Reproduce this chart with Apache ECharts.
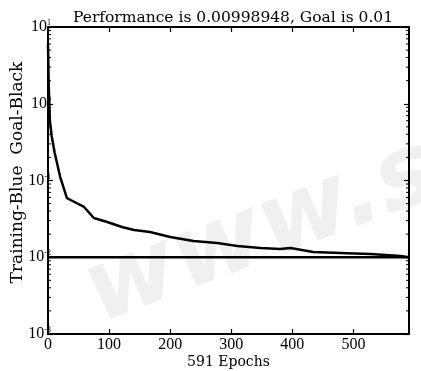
<!DOCTYPE html>
<html>
<head>
<meta charset="utf-8">
<script src="https://cdn.jsdelivr.net/npm/echarts@6/dist/echarts.min.js"></script>
<style>
html,body{margin:0;padding:0;background:#fff;}
#c{width:421px;height:371px;}
</style>
</head>
<body>
<div id="c"></div>
<script>
// Training performance
const epochs = [0, 1, 3, 6, 11, 20, 31, 37, 59, 75, 97, 121, 141, 167, 200, 238, 277, 310, 348, 380, 397, 434, 490, 528, 577, 591];
const perf = [6, 2.0, 0.61, 0.38, 0.228, 0.111, 0.059, 0.0557, 0.0452, 0.0325, 0.0288, 0.0248, 0.0226, 0.0213, 0.0184, 0.0163, 0.0153, 0.0140, 0.0132, 0.0128, 0.0132, 0.0117, 0.0113, 0.0110, 0.0104, 0.00998948];
// Goal line
const goalEpochs = [0, 591];
const goalVals = [0.01, 0.01];
// Axis ticks
const xTicks = [0, 100, 200, 300, 400, 500];
const yMajor = [0.001, 0.01, 0.1, 1, 10];
const yMinor = [0.002,0.003,0.004,0.005,0.006,0.007,0.008,0.009,
                0.02,0.03,0.04,0.05,0.06,0.07,0.08,0.09,
                0.2,0.3,0.4,0.5,0.6,0.7,0.8,0.9,
                2,3,4,5,6,7,8,9];

const titleText = 'Performance is 0.00998948, Goal is 0.01';
const xName = '591 Epochs';
const yName = 'Training-Blue  Goal-Black';

const DSERIF = '"DejaVu Serif", serif';
const SERIF = '"Liberation Serif", serif';

const chart = echarts.init(document.getElementById('c'), null, {renderer: 'canvas'});

const axisLineStyle = {color: '#000', width: 2};
const tickStyle = {color: '#000', width: 1.2};

const option = {
  backgroundColor: '#fff',
  animation: false,
  graphic: [{
    type: 'text',
    x: 262, y: 234,
    rotation: 0.36,
    z: -10,
    silent: true,
    style: {
      text: 'www.s',
      font: 'italic bold 100px "DejaVu Sans"',
      align: 'center',
      verticalAlign: 'middle',
      fill: 'rgba(0,0,0,0.06)',
      shadowBlur: 16,
      shadowColor: 'rgba(0,0,0,0.4)'
    }
  }],
  title: {
    text: titleText,
    left: 228,
    textAlign: 'center',
    top: 5,
    textStyle: {fontFamily: DSERIF, fontSize: 15.5, fontWeight: 'normal', color: '#000'}
  },
  grid: {left: 48, right: 12, top: 27, bottom: 37, containLabel: false, outerBoundsMode: 'none'},
  xAxis: [{
    type: 'value', min: 0, max: 591, interval: 100, position: 'bottom',
    axisLine: {show: true, onZero: false, lineStyle: axisLineStyle},
    axisTick: {show: true, inside: true, length: 5, lineStyle: tickStyle, customValues: xTicks},
    axisLabel: {show: true, margin: 3, color: '#000', fontFamily: SERIF, fontSize: 16,
      customValues: xTicks},
    splitLine: {show: false},
    name: xName, nameLocation: 'middle', nameGap: 21, nameMoveOverlap: false,
    nameTextStyle: {fontFamily: DSERIF, fontSize: 14, color: '#000'}
  }, {
    type: 'value', min: 0, max: 591, interval: 100, position: 'top',
    axisLine: {show: true, onZero: false, lineStyle: axisLineStyle},
    axisTick: {show: true, inside: true, length: 5, lineStyle: tickStyle, customValues: xTicks},
    axisLabel: {show: false},
    splitLine: {show: false}
  }],
  yAxis: [{
    type: 'log', logBase: 10, min: 0.001, max: 10, position: 'left',
    axisLine: {show: true, onZero: false, lineStyle: axisLineStyle},
    axisTick: {show: true, inside: true, length: 5, lineStyle: tickStyle, customValues: yMajor},
    axisLabel: {
      show: true, margin: -3, color: '#000', customValues: yMajor,
      formatter: function (v) { return '{a|10}{s|' + Math.round(Math.log10(v)) + '}'; },
      rich: {
        a: {fontFamily: SERIF, fontSize: 16, color: '#000'},
        s: {fontFamily: SERIF, fontSize: 8, color: '#000', verticalAlign: 'top'}
      }
    },
    splitLine: {show: false},
    name: yName, nameLocation: 'middle', nameGap: 22, nameMoveOverlap: false,
    nameTextStyle: {fontFamily: DSERIF, fontSize: 17, color: '#000', padding: [0, 0, 0, 16]}
  }, {
    type: 'log', logBase: 10, min: 0.001, max: 10, position: 'right',
    axisLine: {show: true, onZero: false, lineStyle: axisLineStyle},
    axisTick: {show: true, inside: true, length: 5, lineStyle: tickStyle, customValues: yMajor},
    axisLabel: {show: false},
    splitLine: {show: false}
  }],
  series: [{
    type: 'custom',
    xAxisIndex: 0, yAxisIndex: 0,
    silent: true, z: 1,
    data: yMinor.map(v => [0, v]),
    renderItem: function (params, api) {
      const y = api.coord([0, api.value(1)])[1];
      const cs = params.coordSys;
      return {type: 'group', children: [
        {type: 'line', shape: {x1: cs.x, y1: y, x2: cs.x + 3, y2: y}, style: {stroke: '#000', lineWidth: 1}},
        {type: 'line', shape: {x1: cs.x + cs.width, y1: y, x2: cs.x + cs.width - 3, y2: y}, style: {stroke: '#000', lineWidth: 1}}
      ]};
    }
  }, {
    type: 'line', name: 'Goal',
    data: goalEpochs.map((e, i) => [e, goalVals[i]]),
    symbol: 'none', lineStyle: {color: '#000', width: 2.5}, z: 3
  }, {
    type: 'line', name: 'Training',
    data: epochs.map((e, i) => [e, perf[i]]),
    symbol: 'none', lineStyle: {color: '#000', width: 2.5}, z: 4
  }]
};
chart.setOption(option);
</script>
</body>
</html>
